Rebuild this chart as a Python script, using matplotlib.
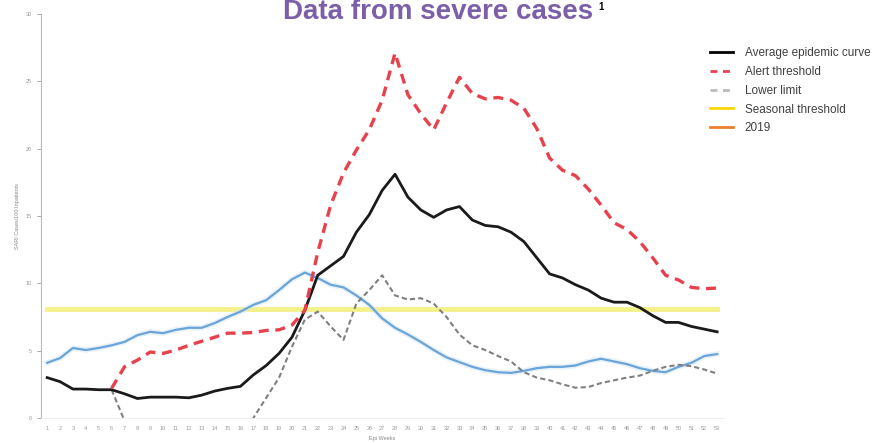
import matplotlib
matplotlib.use("Agg")
import matplotlib.pyplot as plt
import numpy as np

plt.rcParams['font.family'] = ['Liberation Sans', 'DejaVu Sans']

weeks = list(range(1, 54))

average_curve = [3.0, 2.7, 2.15, 2.15, 2.1, 2.1, 1.8, 1.45, 1.55, 1.55,
                 1.55, 1.5, 1.7, 2.0, 2.2, 2.35, 3.2, 3.9, 4.8, 6.0,
                 8.0, 10.6, 11.3, 12.0, 13.8, 15.1, 16.9, 18.1, 16.4, 15.45,
                 14.9, 15.45, 15.7, 14.7, 14.3, 14.2, 13.8, 13.1, 11.9, 10.7,
                 10.4, 9.9, 9.5, 8.9, 8.6, 8.6, 8.2, 7.6, 7.1, 7.1,
                 6.8, 6.6, 6.4]

alert_weeks = list(range(6, 54))
alert_threshold = [2.2, 3.8, 4.3, 4.9, 4.8, 5.05, 5.4, 5.7, 6.0, 6.3,
                   6.3, 6.35, 6.5, 6.55, 6.9, 8.0, 12.3, 15.8, 18.2, 19.9,
                   21.4, 23.6, 27.1, 24.0, 22.6, 21.4, 23.4, 25.3, 24.1, 23.7,
                   23.8, 23.6, 23.0, 21.5, 19.3, 18.4, 18.0, 17.0, 15.8, 14.5,
                   14.0, 13.1, 11.9, 10.6, 10.25, 9.7, 9.6, 9.65]

lower_weeks = list(range(6, 54))
lower_limit = [2.1, -0.2, -3.0, -4.0, -4.0, -4.0, -4.0, -4.0, -4.0, -4.0,
               -3.0, 0.0, 1.5, 3.0, 5.3, 7.3, 7.9, 6.8, 5.8, 8.5,
               9.5, 10.6, 9.1, 8.8, 8.9, 8.5, 7.5, 6.2, 5.4, 5.05,
               4.6, 4.2, 3.4, 3.0, 2.8, 2.5, 2.25, 2.3, 2.6, 2.8,
               3.0, 3.15, 3.5, 3.8, 3.95, 3.85, 3.6, 3.3]

season_2019 = [4.1, 4.45, 5.2, 5.05, 5.2, 5.4, 5.65, 6.15, 6.4, 6.3,
               6.55, 6.7, 6.7, 7.05, 7.5, 7.9, 8.4, 8.75, 9.5, 10.3,
               10.8, 10.4, 9.9, 9.7, 9.1, 8.4, 7.4, 6.7, 6.2, 5.65,
               5.05, 4.5, 4.15, 3.8, 3.55, 3.4, 3.35, 3.5, 3.7, 3.8,
               3.8, 3.9, 4.2, 4.4, 4.2, 4.0, 3.7, 3.5, 3.4, 3.8,
               4.1, 4.6, 4.75]

seasonal_threshold = 8.1

fig = plt.figure(figsize=(8.76, 4.43), dpi=100)
ax = fig.add_axes([0.0465, 0.0564, 0.7795, 0.912])

ax.plot(weeks, [seasonal_threshold] * len(weeks), color="#f4f08a", lw=3.5, zorder=1)
ax.plot(weeks, season_2019, color="#d5e6f5", lw=4, alpha=0.5, zorder=2)
ax.plot(weeks, season_2019, color="#6aa5da", lw=1.6, zorder=3)
ax.plot(lower_weeks, lower_limit, color="#808080", lw=1.5, dashes=(2.5, 1.5), zorder=3)
ax.plot(weeks, average_curve, color="#1a1a1a", lw=2, zorder=4)
ax.plot(alert_weeks, alert_threshold, color="#e8414e", lw=2.4, dashes=(3, 2), zorder=5)

# legend handles (colours as in the legend box)
ax.plot([], [], color="black", lw=2, label="Average epidemic curve")
ax.plot([], [], color="#e8414e", lw=2, dashes=(2.5, 2), label="Alert threshold")
ax.plot([], [], color="#bbbbbb", lw=2, dashes=(2.5, 2), label="Lower limit")
ax.plot([], [], color="#ffd700", lw=2, label="Seasonal threshold")
ax.plot([], [], color="#ed7d31", lw=2, label="2019")
handles, labels = ax.get_legend_handles_labels()
fig.legend(handles, labels, loc="upper left", bbox_to_anchor=(710 / 876, 1 - 47 / 443),
           frameon=False, fontsize=8.5, handlelength=1.95, handletextpad=1.0,
           labelspacing=0.58, borderpad=0, borderaxespad=0, labelcolor="#404040")

ax.set_xlim(0.5, 53.5)
ax.set_ylim(0, 30)
ax.set_xticks(weeks)
ax.set_xticklabels([str(w) for w in weeks])
ax.set_yticks([0, 5, 10, 15, 20, 25, 30])
ax.tick_params(axis="both", labelsize=4, colors="#999999", length=3, width=0.6)
ax.tick_params(axis="x", length=0, pad=6)
for s in ["top", "right"]:
    ax.spines[s].set_visible(False)
ax.spines["bottom"].set_color("#eeeeee")
ax.spines["left"].set_color("#bbbbbb")
ax.set_ylabel("SARI Cases/100 Inpatients", fontsize=4, color="#888888", labelpad=4)
ax.set_xlabel("Epi Weeks", fontsize=4, color="#888888", labelpad=3)

fig.text(438 / 876, 1 - 19 / 443, "Data from severe cases", ha="center", va="baseline",
         fontsize=20, fontweight="bold", color="#7b5fa8")
fig.text(598 / 876, 1 - 10 / 443, "1", ha="left", va="baseline", fontsize=7,
         fontweight="bold", color="black")

fig.savefig("out.png", dpi=100)
